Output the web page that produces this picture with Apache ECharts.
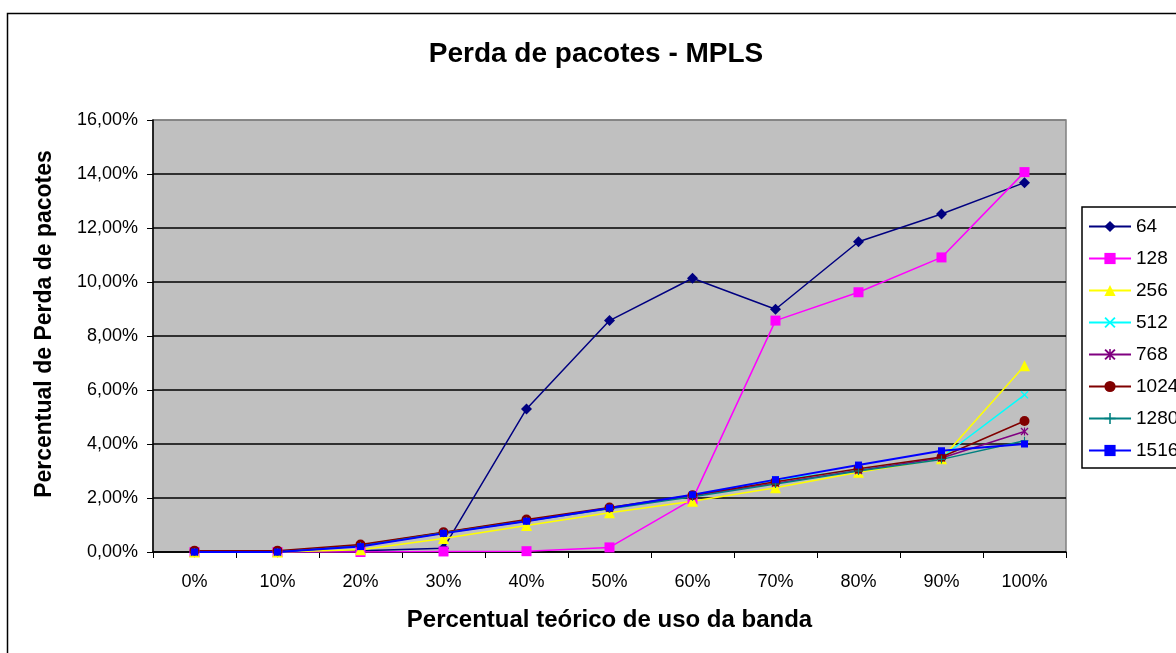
<!DOCTYPE html>
<html>
<head>
<meta charset="utf-8">
<script src="https://cdn.jsdelivr.net/npm/echarts@6/dist/echarts.min.js"></script>
<style>
html,body{margin:0;padding:0;background:#fff;}
#chart{width:1176px;height:653px;}
</style>
</head>
<body>
<div id="chart"></div>
<script>
const categories = ['0%','10%','20%','30%','40%','50%','60%','70%','80%','90%','100%'];
const s64   = [0, 0, 0.05, 0.14, 5.30, 8.57, 10.14, 8.99, 11.49, 12.52, 13.68];
const s128  = [0, 0, 0, 0.02, 0.03, 0.17, 1.95, 8.57, 9.62, 10.91, 14.07];
const s256  = [0, 0, 0.08, 0.50, 0.98, 1.45, 1.88, 2.38, 2.95, 3.45, 6.90];
const s512  = [0, 0, 0.22, 0.70, 1.15, 1.62, 2.10, 2.68, 3.05, 3.50, 5.82];
const s768  = [0, 0, 0.25, 0.72, 1.18, 1.62, 2.08, 2.55, 3.02, 3.48, 4.46];
const s1024 = [0.05, 0.05, 0.28, 0.73, 1.20, 1.65, 2.10, 2.60, 3.08, 3.52, 4.85];
const s1280 = [0, 0, 0.22, 0.70, 1.15, 1.60, 2.05, 2.52, 3.00, 3.43, 4.12];
const s1516 = [0, 0, 0.20, 0.69, 1.14, 1.63, 2.12, 2.68, 3.22, 3.75, 4.00];
const yTicks = [0, 2, 4, 6, 8, 10, 12, 14, 16];

const X_PATH = 'path://M0,1.2 L1.2,0 L5,3.8 L8.8,0 L10,1.2 L6.2,5 L10,8.8 L8.8,10 L5,6.2 L1.2,10 L0,8.8 L3.8,5 Z';
const PLUS_PATH = 'path://M4.3,0 H5.7 V4.3 H10 V5.7 H5.7 V10 H4.3 V5.7 H0 V4.3 H4.3 Z';
const STAR_PATH = 'path://M0,1.2 L1.2,0 L4.3,3.1 V0 H5.7 V3.1 L8.8,0 L10,1.2 L6.2,5 L10,8.8 L8.8,10 L5.7,6.9 V10 H4.3 V6.9 L1.2,10 L0,8.8 L3.8,5 Z';
const SMALL_RECT = 'path://M0,2 H10 V8 H0 Z';
const FONT = 'Liberation Sans, Arial, sans-serif';

function mk(name, data, color, symbol, size, lw) {
  return {
    name: name, type: 'line', data: data, symbol: symbol, symbolSize: size,
    showAllSymbol: true,
    lineStyle: {color: color, width: lw || 1.5},
    itemStyle: {color: color, borderWidth: 0},
    emphasis: {disabled: true},
    animation: false
  };
}

const gridColors = yTicks.map((t, i) => i === yTicks.length - 1 ? '#808080' : '#000');

const chart = echarts.init(document.getElementById('chart'));
chart.setOption({
  backgroundColor: '#fff',
  animation: false,
  textStyle: {fontFamily: FONT},
  title: {
    text: 'Perda de pacotes - MPLS', left: 596, top: 40, textAlign: 'center', padding: 0,
    textStyle: {fontSize: 28, fontWeight: 'bold', color: '#000', fontFamily: FONT}
  },
  graphic: [{
    type: 'rect', shape: {x: 7.5, y: 13.5, width: 1200, height: 700},
    style: {fill: 'none', stroke: '#000', lineWidth: 1.5}, silent: true, z: -1
  }],
  grid: {left: 153, top: 120, right: 110, bottom: 101, show: true, backgroundColor: '#C0C0C0', borderColor: '#808080', borderWidth: 1.5},
  legend: {
    orient: 'vertical', left: 1082, top: 207,
    borderColor: '#000', borderWidth: 1.5, padding: [10, 40, 8, 6],
    itemWidth: 42, itemHeight: 14, itemGap: 13,
    textStyle: {fontSize: 19, color: '#000', fontFamily: FONT},
    data: ['64','128','256','512','768','1024','1280','1516']
  },
  xAxis: {
    type: 'category', data: categories, boundaryGap: true,
    axisLine: {lineStyle: {color: '#000', width: 1.5}},
    axisTick: {show: true, length: 6, inside: false, lineStyle: {color: '#000'}},
    axisLabel: {fontSize: 18, color: '#000', margin: 21, fontFamily: FONT},
    name: 'Percentual teórico de uso da banda', nameLocation: 'middle', nameGap: 56,
    nameTextStyle: {fontSize: 24, fontWeight: 'bold', color: '#000', fontFamily: FONT}
  },
  yAxis: {
    type: 'value', min: yTicks[0], max: yTicks[yTicks.length - 1], interval: 2,
    axisLine: {show: true, lineStyle: {color: '#000', width: 1.5}},
    axisTick: {show: true, length: 6, lineStyle: {color: '#000'}},
    splitLine: {lineStyle: {color: gridColors, width: 1.5}},
    axisLabel: {fontSize: 18, color: '#000', margin: 15, fontFamily: FONT, formatter: v => v.toFixed(2).replace('.', ',') + '%'},
    name: 'Percentual de Perda de pacotes', nameLocation: 'middle', nameGap: 97,
    nameTextStyle: {fontSize: 23, fontWeight: 'bold', color: '#000', fontFamily: FONT, padding: [0, 0, 0, 24]}
  },
  series: [
    mk('64', s64, '#000080', 'diamond', 11),
    mk('128', s128, '#FF00FF', 'rect', 10),
    mk('256', s256, '#FFFF00', 'triangle', 11),
    mk('512', s512, '#00FFFF', X_PATH, 8),
    mk('768', s768, '#800080', STAR_PATH, 8),
    mk('1024', s1024, '#800000', 'circle', 10),
    mk('1280', s1280, '#008080', PLUS_PATH, 8),
    mk('1516', s1516, '#0000FF', SMALL_RECT, 7, 2)
  ]
});
</script>
</body>
</html>
